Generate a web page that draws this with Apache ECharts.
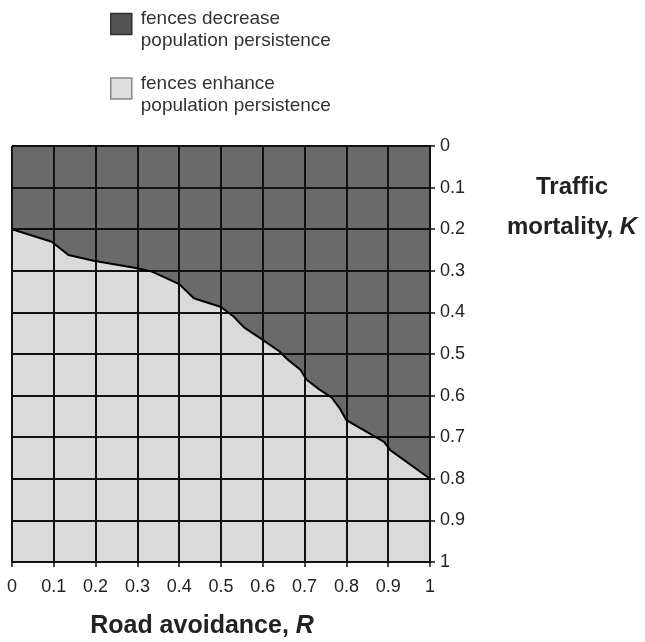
<!DOCTYPE html>
<html>
<head>
<meta charset="utf-8">
<script src="https://cdn.jsdelivr.net/npm/echarts@6/dist/echarts.min.js"></script>
<style>
html,body{margin:0;padding:0;background:#fff;}
#chart{width:645px;height:642px;}
</style>
</head>
<body>
<div id="chart"></div>
<script>
// Boundary between regions: road avoidance R (x) vs traffic mortality K (y)
var roadAvoidance = [0, 0.095, 0.135, 0.195, 0.30, 0.335, 0.40, 0.435, 0.50, 0.53, 0.555, 0.60, 0.64, 0.66, 0.69, 0.705, 0.735, 0.765, 0.785, 0.80, 0.89, 0.905, 1.0];
var trafficMortality = [0.20, 0.23, 0.262, 0.276, 0.294, 0.302, 0.332, 0.366, 0.387, 0.41, 0.436, 0.466, 0.494, 0.514, 0.538, 0.562, 0.585, 0.605, 0.632, 0.659, 0.711, 0.731, 0.80];
var tickLabels = ['0','0.1','0.2','0.3','0.4','0.5','0.6','0.7','0.8','0.9','1'];
var regionNames = ['fences decrease\npopulation persistence', 'fences enhance\npopulation persistence'];

var boundary = roadAvoidance.map(function (r, i) { return [r, trafficMortality[i]]; });
var FONT = '"Liberation Sans", Arial, sans-serif';
var DARK = '#6a6a6a', LIGHT = '#dadada';

var chart = echarts.init(document.getElementById('chart'));
function fmt(v) { var i = Math.round(v * 10); return tickLabels[i] !== undefined ? tickLabels[i] : ''; }

chart.setOption({
  animation: false,
  backgroundColor: '#fff',
  legend: {
    orient: 'vertical',
    left: 110,
    top: -4,
    padding: 0,
    itemWidth: 21,
    itemHeight: 21,
    itemGap: 10,
    icon: 'rect',
    selectedMode: false,
    formatter: function (name) {
      return '{s| }\n' + name.split('\n').map(function (l) { return '{t|' + l + '}'; }).join('\n');
    },
    textStyle: {
      fontFamily: FONT, fontSize: 19, color: '#333',
      rich: {
        s: { fontSize: 2, lineHeight: 12, height: 12 },
        t: { fontFamily: FONT, fontSize: 19, lineHeight: 22, color: '#333', padding: [0, 0, 0, 4] }
      }
    },
    data: [
      { name: regionNames[0], itemStyle: { color: '#555', borderColor: '#333', borderWidth: 1.5 } },
      { name: regionNames[1], itemStyle: { color: '#dedede', borderColor: '#888', borderWidth: 1.5 } }
    ]
  },
  grid: { left: 12, top: 146, width: 418, height: 416, containLabel: false, outerBoundsMode: 'none' },
  xAxis: {
    type: 'value', min: 0, max: 1, interval: 0.1, z: 2,
    name: 'Road avoidance, {i|R}',
    nameLocation: 'middle', nameGap: 52,
    nameTextStyle: { fontFamily: FONT, fontSize: 25, fontWeight: 'bold', color: '#222', padding: [0, 38, 0, 0],
      rich: { i: { fontFamily: FONT, fontSize: 25, fontWeight: 'bold', fontStyle: 'italic', color: '#222' } } },
    axisLine: { show: true, onZero: false, lineStyle: { color: '#111', width: 2 } },
    axisTick: { show: true, inside: false, length: 5, lineStyle: { color: '#111', width: 1.5 } },
    axisLabel: { margin: 16, fontFamily: FONT, fontSize: 18, color: '#222', formatter: fmt },
    splitLine: { show: true, showMinLine: true, showMaxLine: true, lineStyle: { color: '#111', width: 2 } }
  },
  yAxis: {
    type: 'value', min: 0, max: 1, interval: 0.1, inverse: true, position: 'right', z: 2,
    axisLine: { show: true, onZero: false, lineStyle: { color: '#111', width: 2 } },
    axisTick: { show: true, inside: false, length: 5, lineStyle: { color: '#111', width: 1.5 } },
    axisLabel: { margin: 10, fontFamily: FONT, fontSize: 18, color: '#222', formatter: fmt },
    splitLine: { show: true, showMinLine: true, showMaxLine: true, lineStyle: { color: '#111', width: 2 } }
  },
  graphic: [{
    type: 'text',
    x: 572, y: 167,
    style: {
      text: 'Traffic\nmortality, {i|K}',
      fontFamily: FONT, fontSize: 24, fontWeight: 'bold', fill: '#222',
      align: 'center', verticalAlign: 'top', lineHeight: 40,
      rich: { i: { fontFamily: FONT, fontSize: 24, fontWeight: 'bold', fontStyle: 'italic', fill: '#222', lineHeight: 40 } }
    }
  }],
  series: [
    {
      name: regionNames[0], type: 'line', data: boundary, z: 1,
      symbol: 'none', lineStyle: { width: 0 }, itemStyle: { color: DARK },
      areaStyle: { color: DARK, opacity: 1, origin: 'start' }
    },
    {
      name: regionNames[1], type: 'line', data: boundary, z: 1,
      symbol: 'none', lineStyle: { width: 0 }, itemStyle: { color: LIGHT },
      areaStyle: { color: LIGHT, opacity: 1, origin: 'end' }
    },
    {
      name: 'boundary', type: 'line', data: boundary, z: 5,
      symbol: 'none', lineStyle: { color: '#000', width: 2 }
    }
  ]
});
</script>
</body>
</html>
